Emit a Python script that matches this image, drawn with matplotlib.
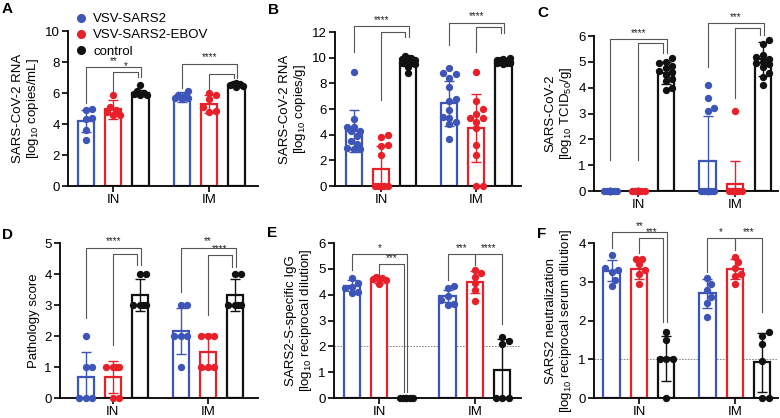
import numpy as np
import matplotlib
matplotlib.use("Agg")
import matplotlib.pyplot as plt

plt.rcParams['font.family'] = ['Liberation Sans', 'DejaVu Sans']
plt.rcParams['mathtext.default'] = 'regular'

BLUE = '#3d55b8'
RED = '#e8202a'
BLACK = '#111111'
COLORS = [BLUE, RED, BLACK]
SERIES = ['VSV-SARS2', 'VSV-SARS2-EBOV', 'control']
GROUPS = ['IN', 'IM']

# ---- data ----
# A: serum RNA
A_means = [[4.2, 4.95, 6.0], [5.75, 5.3, 6.5]]
A_sd = [[0.7, 0.6, 0.2], [0.3, 0.6, 0.12]]
A_pts = [[[5.0, 4.9, 4.4, 4.3, 3.6, 3.0],
          [5.9, 5.1, 4.9, 4.8, 4.6, 4.6],
          [6.5, 6.1, 6.0, 5.95, 5.9, 5.85]],
         [[6.1, 5.9, 5.8, 5.7, 5.65, 5.6],
          [6.0, 5.9, 5.6, 5.1, 4.85, 4.8],
          [6.65, 6.6, 6.55, 6.5, 6.45, 6.4]]]

# B: lung RNA
B_means = [[4.28, 1.35, 9.7], [6.45, 4.5, 9.72]]
B_sd = [[1.64, 1.75, 0.35], [1.75, 2.65, 0.12]]
B_pts = [[[8.9, 5.2, 4.6, 4.6, 4.3, 4.3, 3.9, 3.5, 3.3, 3.0, 2.9, 2.9],
          [4.0, 3.8, 3.2, 3.1, 2.4, 0, 0, 0, 0, 0, 0, 0],
          [10.1, 10.0, 9.95, 9.9, 9.85, 9.8, 9.7, 9.65, 9.6, 9.5, 9.3, 8.8]],
         [[9.2, 8.8, 8.7, 8.4, 7.7, 6.8, 6.6, 5.9, 5.4, 5.3, 5.0, 4.8, 3.7],
          [8.9, 6.6, 6.0, 5.6, 5.3, 5.3, 5.0, 4.5, 3.2, 2.4, 0, 0],
          [10.0, 9.9, 9.85, 9.8, 9.75, 9.7, 9.7, 9.65, 9.6, 9.6, 9.55, 9.5]]]

# C: infectious virus
C_means = [[0, 0, 4.57], [1.15, 0.26, 5.1]]
C_sd = [[0, 0, 0.43], [1.77, 0.92, 0.65]]
C_pts = [[[0] * 12,
          [0] * 12,
          [5.15, 5.0, 4.95, 4.85, 4.75, 4.65, 4.6, 4.5, 4.35, 4.25, 4.0, 3.9]],
         [[4.1, 3.6, 3.2, 3.1, 0, 0, 0, 0, 0, 0, 0, 0],
          [3.1, 0, 0, 0, 0, 0, 0, 0, 0, 0, 0, 0],
          [5.85, 5.7, 5.25, 5.2, 5.1, 5.0, 4.95, 4.9, 4.8, 4.55, 4.4, 4.1]]]

# D: pathology score
D_means = [[0.67, 0.67, 3.33], [2.17, 1.5, 3.33]]
D_sd = [[0.82, 0.52, 0.52], [0.75, 0.55, 0.52]]
D_pts = [[[2, 1, 1, 0, 0, 0], [1, 1, 1, 1, 0, 0], [4, 4, 3, 3, 3, 3]],
         [[3, 3, 2, 2, 2, 1], [2, 2, 2, 1, 1, 1], [4, 4, 3, 3, 3, 3]]]

# E: S-specific IgG
E_means = [[4.35, 4.57, 0], [3.95, 4.5, 1.08]]
E_sd = [[0.2, 0.1, 0], [0.25, 0.42, 1.2]]
E_pts = [[[4.65, 4.45, 4.3, 4.25, 4.1, 4.05],
          [4.7, 4.65, 4.6, 4.6, 4.55, 4.4],
          [0, 0, 0, 0, 0, 0]],
         [[4.35, 4.25, 3.95, 3.8, 3.65, 3.6],
          [4.95, 4.85, 4.7, 4.45, 4.2, 3.75],
          [2.35, 2.2, 2.1, 0, 0, 0]]]

# F: neutralization
F_means = [[3.28, 3.33, 1.03], [2.7, 3.32, 0.92]]
F_sd = [[0.27, 0.25, 0.58], [0.37, 0.26, 0.76]]
F_pts = [[[3.7, 3.35, 3.3, 3.25, 3.05, 2.9],
          [3.6, 3.6, 3.45, 3.3, 3.2, 2.95],
          [1.7, 1.5, 1.0, 1.0, 1.0, 0]],
         [[3.1, 2.95, 2.8, 2.6, 2.45, 2.1],
          [3.65, 3.5, 3.35, 3.2, 3.15, 2.95],
          [1.7, 1.6, 1.4, 0.95, 0, 0]]]

# significance brackets: (group, series1, series2, y, leg1 bottom, leg2 bottom, label, shift of right leg)
A_sig = [(0, 0, 2, 7.65, 5.35, 7.05, '**', 0.01), (0, 1, 2, 7.35, 5.75, 7.05, '*', -0.03),
         (1, 0, 2, 7.9, 6.3, 7.0, '****', 0.01), (1, 1, 2, 7.2, 6.2, 7.0, '', -0.03)]
B_sig = [(0, 0, 2, 12.47, 10.47, 11.64, '****', 0.01), (0, 1, 2, 12.03, 6.7, 11.64, '', -0.03),
         (1, 0, 2, 12.73, 11.0, 11.9, '****', 0.01), (1, 1, 2, 12.42, 10.47, 11.9, '', -0.03)]
C_sig = [(0, 0, 2, 5.88, 1.2, 5.33, '****', 0.01), (0, 1, 2, 5.72, 1.2, 5.33, '', -0.03),
         (1, 0, 2, 6.49, 4.81, 6.04, '***', 0.01), (1, 1, 2, 6.3, 3.59, 6.04, '', -0.03)]
D_sig = [(0, 0, 2, 4.85, 2.57, 4.29, '****', 0.01), (0, 1, 2, 4.65, 1.71, 4.29, '', -0.03),
         (1, 0, 2, 4.85, 3.43, 4.24, '**', 0.01), (1, 1, 2, 4.61, 2.68, 4.24, '****', -0.03)]
E_sig = [(0, 0, 2, 5.56, 4.96, 0.25, '*', 0.01), (0, 1, 2, 5.17, 4.7, 0.25, '***', -0.03),
         (1, 0, 1, 5.56, 4.56, 5.14, '***', 0.0), (1, 1, 2, 5.56, 5.14, 2.88, '****', 0.0)]
F_sig = [(0, 0, 2, 4.28, 3.87, 1.97, '**', 0.01), (0, 1, 2, 4.12, 3.74, 1.97, '***', -0.03),
         (1, 0, 1, 4.12, 3.26, 3.83, '*', 0.0), (1, 1, 2, 4.12, 3.83, 2.23, '***', 0.0)]

OFFS = [-0.285, 0.0, 0.285]
BAR_W = 0.17


def swarm_x(ax, xc, ys, d=6.5, max_off=9.0):
    # simple beeswarm in display pixels, limited to the bar width
    trans = ax.transData
    pts = trans.transform([(xc, y) for y in ys])
    order = np.argsort(pts[:, 1])
    placed = []
    xs = np.zeros(len(ys))
    cands = [0.0]
    k = 1
    while k * d * 0.5 <= max_off + 1e-6:
        cands += [k * d * 0.5, -k * d * 0.5]
        k += 1
    for i in order:
        px, py = pts[i]
        best, best_dist = None, -1
        for c in cands:
            if placed:
                dist = min(np.hypot(px + c - qx, py - qy) for qx, qy in placed)
            else:
                dist = 1e9
            if dist >= d * 0.95:
                best = c
                break
            if dist > best_dist:
                best_dist, best_c = dist, c
        if best is None:
            best = best_c
        placed.append((px + best, py))
        xs[i] = trans.inverted().transform((px + best, py))[0]
    return xs


def panel(ax, means, sds, pts, sig, ylim, yticks, ylabel, xlim, refline=None):
    ax.set_xlim(*xlim)
    ax.set_ylim(*ylim)
    for g in range(2):
        for s in range(3):
            x = g + OFFS[s]
            ax.bar(x, means[g][s], width=BAR_W, facecolor='white',
                   edgecolor=COLORS[s], linewidth=1.6, zorder=1)
            if sds[g][s] > 0:
                ax.errorbar(x, means[g][s], yerr=sds[g][s], color=COLORS[s],
                            capsize=3.5, elinewidth=1.0, capthick=1.0, zorder=2)
            xs = swarm_x(ax, x, pts[g][s])
            ax.scatter(xs, pts[g][s], s=28, color=COLORS[s], zorder=3,
                       linewidths=0, clip_on=False)
    if refline is not None:
        ax.axhline(refline, color='#777777', lw=0.6, ls=(0, (2, 1.5)), zorder=0)
    for g, s1, s2, y, b1, b2, lab, sh in sig:
        x1 = g + OFFS[s1]
        x2 = g + OFFS[s2] + sh
        ax.plot([x1, x1, x2, x2], [b1, y, y, b2], color='#555555', lw=0.8,
                clip_on=False, zorder=4)
        if lab:
            ax.text((x1 + x2) / 2, y + (ylim[1] - ylim[0]) * 0.008, lab,
                    ha='center', va='bottom', fontsize=7, color='#222222')
    ax.set_yticks(yticks)
    ax.set_xticks([0, 1])
    ax.set_xticklabels(GROUPS, fontsize=9.5)
    ax.tick_params(axis='y', labelsize=9.5, width=1.2, length=4, pad=2)
    ax.tick_params(axis='x', width=1.2, length=4, pad=2)
    for sp in ['top', 'right']:
        ax.spines[sp].set_visible(False)
    for sp in ['left', 'bottom']:
        ax.spines[sp].set_linewidth(1.3)
    ax.set_ylabel(ylabel, fontsize=9.5, labelpad=3, linespacing=1.1)
    return ax


fig = plt.figure(figsize=(7.8, 4.18), dpi=100)

axA = fig.add_axes([0.0872, 0.555, 0.2436, 0.3708])
panel(axA, A_means, A_sd, A_pts, A_sig, (0, 10), [0, 2, 4, 6, 8, 10],
      'SARS-CoV-2 RNA\n[log$_{10}$ copies/mL]', (-0.47, 1.51))
axB = fig.add_axes([0.4295, 0.555, 0.2385, 0.3684])
panel(axB, B_means, B_sd, B_pts, B_sig, (0, 12), [0, 2, 4, 6, 8, 10, 12],
      'SARS-CoV-2 RNA\n[log$_{10}$ copies/g]', (-0.484, 1.47))
axC = fig.add_axes([0.7615, 0.543, 0.2359, 0.3708])
panel(axC, C_means, C_sd, C_pts, C_sig, (0, 6), [0, 1, 2, 3, 4, 5, 6],
      'SARS-CoV-2\n[log$_{10}$ TCID$_{50}$/g]', (-0.454, 1.44))
axD = fig.add_axes([0.0769, 0.0478, 0.2538, 0.3708])
panel(axD, D_means, D_sd, D_pts, D_sig, (0, 5), [0, 1, 2, 3, 4, 5],
      'Pathology score', (-0.558, 1.53))
axE = fig.add_axes([0.4282, 0.0478, 0.2397, 0.3708])
panel(axE, E_means, E_sd, E_pts, E_sig, (0, 6), [0, 1, 2, 3, 4, 5, 6],
      'SARS2-S-specific IgG\n[log$_{10}$ reciprocal dilution]', (-0.47, 1.48), refline=2)
axF = fig.add_axes([0.7615, 0.0478, 0.2359, 0.3708])
panel(axF, F_means, F_sd, F_pts, F_sig, (0, 4), [0, 1, 2, 3, 4],
      'SARS2 neutralization\n[log$_{10}$ reciprocal serum dilution]', (-0.469, 1.45), refline=1)

# panel letters
for lab, (px, py) in zip('ABCDEF', [(2, 2), (268, 3), (537, 6), (2, 228), (267, 226), (537, 227)]):
    fig.text(px / 780, 1 - py / 418, lab, fontsize=11, fontweight='bold', ha='left', va='top')

# legend
handles = [plt.Line2D([], [], marker='o', ls='', color=c, markersize=5.5) for c in COLORS]
axA.legend(handles, SERIES, loc='upper left', bbox_to_anchor=(0.0, 1.15), frameon=False,
           fontsize=9.5, handletextpad=0.3, labelspacing=0.3, borderaxespad=0,
           handlelength=1.2)

fig.savefig('out.png', dpi=100)
